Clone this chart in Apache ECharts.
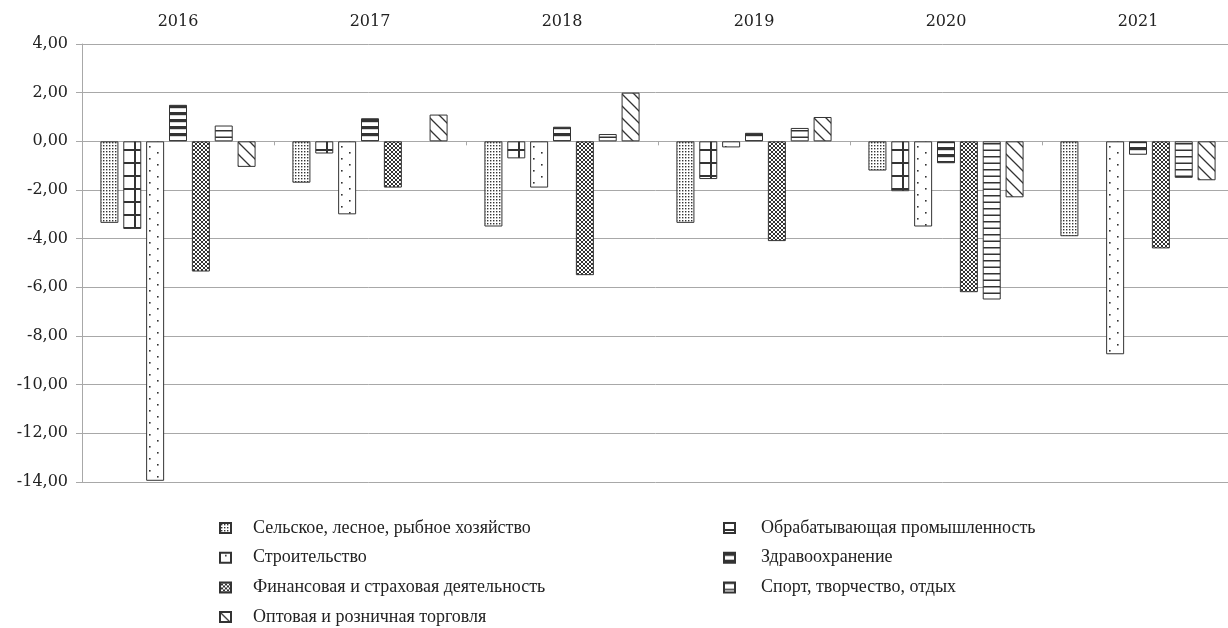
<!DOCTYPE html>
<html>
<head>
<meta charset="utf-8">
<script src="https://cdn.jsdelivr.net/npm/echarts@6/dist/echarts.min.js"></script>
<style>
  html, body { margin: 0; padding: 0; background: #fff; }
  #chart { width: 1228px; height: 628px; }
</style>
</head>
<body>
<div id="chart"></div>
<script>
// данные (прирост, %)
const years = ['2016', '2017', '2018', '2019', '2020', '2021'];
const selskoe = [-3.35, -1.7, -3.5, -3.35, -1.2, -3.9];
const obrab   = [-3.6, -0.5, -0.7, -1.55, -2.05, null];
const stroit  = [-13.95, -3.0, -1.9, -0.25, -3.5, -8.75];
const zdrav   = [1.5, 0.95, 0.6, 0.35, -0.9, -0.55];
const finans  = [-5.35, -1.9, -5.5, -4.1, -6.2, -4.4];
const sport   = [0.65, null, 0.3, 0.55, -6.5, -1.5];
const opt     = [-1.05, 1.1, 2.0, 1.0, -2.3, -1.6];

const names = {
  selskoe: 'Сельское, лесное, рыбное хозяйство',
  obrab: 'Обрабатывающая промышленность',
  stroit: 'Строительство',
  zdrav: 'Здравоохранение',
  finans: 'Финансовая и страховая деятельность',
  sport: 'Спорт, творчество, отдых',
  opt: 'Оптовая и розничная торговля',
};

const FONT = 'Liberation Serif';
const NUM_FONT = 'DejaVu Serif';
const INK = '#333';
const GRID = '#a8a8a8';
const GRID_LEFT = 82, CAT_W = 192, BAR_W = 18, GAP = 0.27;

// штриховки
function tile(w, h, draw) {
  const c = document.createElement('canvas');
  c.width = w; c.height = h;
  const g = c.getContext('2d');
  g.fillStyle = '#fff'; g.fillRect(0, 0, w, h);
  g.fillStyle = INK; g.strokeStyle = INK;
  draw(g, w, h);
  return { image: c, repeat: 'repeat' };
}
// вертикальная линия в столбце "Обрабатывающая" (2-й столбец группы)
const groupW = 7 * BAR_W + 6 * BAR_W * GAP;
const bar2Left = GRID_LEFT + (CAT_W - groupW) / 2 + BAR_W * (1 + GAP);
const vx = Math.round((bar2Left + 12) % CAT_W);

const pat = {
  selskoe: tile(3, 3, g => g.fillRect(1, 1, 1.4, 1.4)),
  obrab: tile(CAT_W, 13, g => { g.fillRect(0, 6, CAT_W, 2); g.fillRect(vx - 1, 0, 2, 13); }),
  stroit: tile(16, 12, g => { g.fillRect(5, 2, 1.6, 1.6); g.fillRect(13, 8, 1.6, 1.6); }),
  zdrav: tile(1, 7, g => g.fillRect(0, 0, 1, 3.2)),
  finans: tile(4, 4, g => {
    g.lineWidth = 1;
    g.beginPath(); g.moveTo(0, 0); g.lineTo(4, 4); g.moveTo(4, 0); g.lineTo(0, 4); g.stroke();
  }),
  sport: tile(1, 13, g => { g.fillRect(0, 0, 1, 1.5); g.fillRect(0, 6.5, 1, 1.5); }),
  opt: tile(12, 12, g => {
    g.lineWidth = 1.3;
    g.beginPath();
    g.moveTo(-1, -1); g.lineTo(13, 13);
    g.moveTo(-1, 11); g.lineTo(1, 13);
    g.moveTo(11, -1); g.lineTo(13, 1);
    g.stroke();
  }),
};

const seriesData = { selskoe, obrab, stroit, zdrav, finans, sport, opt };
const order = ['selskoe', 'obrab', 'stroit', 'zdrav', 'finans', 'sport', 'opt'];

const series = order.map(k => ({
  name: names[k], type: 'bar', data: seriesData[k],
  barWidth: BAR_W, barGap: (GAP * 100) + '%',
  itemStyle: { color: pat[k], borderColor: INK, borderWidth: 1 },
}));

const legendBase = {
  orient: 'vertical', itemWidth: 11, itemHeight: 10, itemGap: 11.7,
  icon: 'rect', padding: 0, top: 519, height: 109,
  selectedMode: false,
};
const legendText = pad => ({ fontFamily: FONT, fontSize: 18, color: '#222', lineHeight: 18, padding: [0, 0, 0, pad] });

const chart = echarts.init(document.getElementById('chart'), null, { renderer: 'canvas' });
chart.setOption({
  animation: false,
  backgroundColor: '#fff',
  grid: { left: GRID_LEFT, top: 44, width: CAT_W * 6, height: 438, outerBoundsMode: 'none' },
  legend: [
    { ...legendBase, left: 219, textStyle: legendText(17), data: [names.selskoe, names.stroit, names.finans, names.opt] },
    { ...legendBase, left: 723, textStyle: legendText(21), data: [names.obrab, names.zdrav, names.sport] },
  ],
  xAxis: [
    {
      type: 'category', data: years, position: 'bottom',
      axisLine: { onZero: true, lineStyle: { color: GRID, width: 1 } },
      axisTick: { show: true, length: 4, lineStyle: { color: GRID } },
      axisLabel: { show: false },
    },
    {
      type: 'category', data: years, position: 'top',
      axisLine: { show: false }, axisTick: { show: false },
      axisLabel: { fontFamily: NUM_FONT, fontSize: 16, color: '#222', margin: 14 },
    },
  ],
  yAxis: {
    type: 'value', min: -14, max: 4, interval: 2,
    axisLine: { show: true, lineStyle: { color: GRID } },
    axisTick: { show: true, length: 6, lineStyle: { color: GRID } },
    splitLine: { lineStyle: { color: GRID, width: 1 } },
    axisLabel: {
      fontFamily: NUM_FONT, fontSize: 16, color: '#222', margin: 14,
      formatter: v => v.toFixed(2).replace('.', ','),
    },
  },
  series,
});
</script>
</body>
</html>
